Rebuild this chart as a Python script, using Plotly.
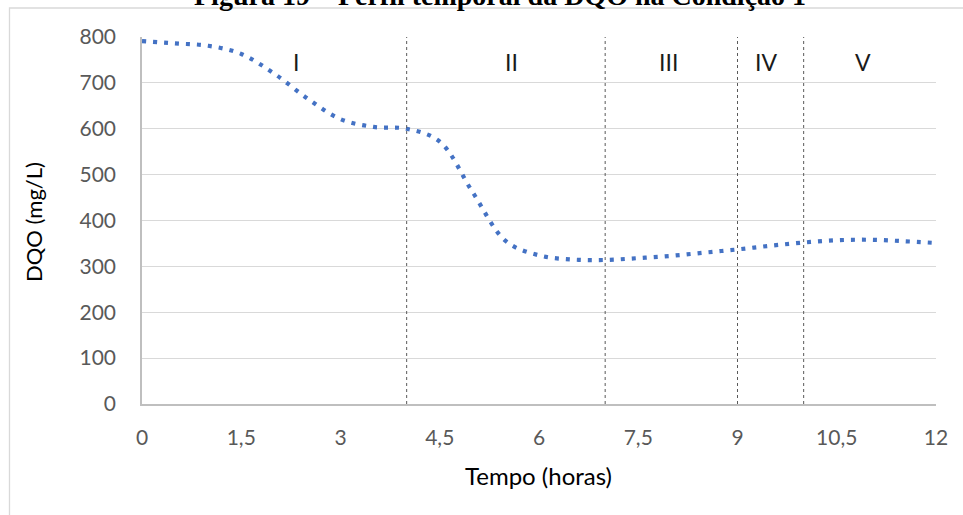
import plotly.graph_objects as go

# DQO over time (h), sampled every half hour
tempo_h = [0, 0.5, 1.0, 1.5, 2.0, 2.5, 3.0, 3.5, 4.0, 4.5, 5.0, 5.5, 6.0,
           6.5, 7.0, 7.5, 8.0, 8.5, 9.0, 9.5, 10.0, 10.5, 11.0, 11.5, 12.0]
dqo_mg_l = [791, 786, 781, 763, 720, 666, 621, 604, 600, 572, 461, 355, 324,
            315, 314, 318, 323, 330, 337, 345, 352, 357, 358, 355, 351]

# Phase boundaries (h) and phase labels
phase_bounds = [4, 7, 9, 10]
phase_names = ["I", "II", "III", "IV", "V"]
phase_label_x = [2.33, 5.58, 7.95, 9.43, 10.9]
phase_label_y = 745

title_text = "Figura 19 – Perfil temporal da DQO na Condição 1"

W, H = 963, 515
L, R, T, B = 142, 27, 37, 111
pw, ph = W - L - R, H - T - B

def px_x(px):
    return (px - L) / pw

def px_y(py):
    return (H - B - py) / ph

fig = go.Figure()
fig.add_trace(go.Scatter(
    x=tempo_h, y=dqo_mg_l, mode="lines",
    line=dict(color="#4472C4", width=4.2, shape="spline", smoothing=1.0,
              dash="4px,7px"),
    hoverinfo="x+y", showlegend=False,
))

shapes = []
for b in phase_bounds:
    shapes.append(dict(type="line", xref="x", yref="y", x0=b, x1=b, y0=0, y1=800,
                       line=dict(color="#595959", width=1, dash="dot")))
# outer chart frame
shapes.append(dict(type="rect", xref="paper", yref="paper",
                   x0=px_x(9.5), x1=px_x(975), y0=px_y(530), y1=px_y(8),
                   line=dict(color="#d9d9d9", width=1.3), fillcolor="rgba(0,0,0,0)",
                   layer="below"))

annotations = []
for name, xv in zip(phase_names, phase_label_x):
    annotations.append(dict(x=xv, y=phase_label_y, xref="x", yref="y", text=name,
                            showarrow=False, xanchor="center", yanchor="middle",
                            font=dict(family="Lato", size=23, color="#1a1a1a")))
annotations.append(dict(x=px_x(538), y=px_y(475), xref="paper", yref="paper",
                        text="Tempo (horas)", showarrow=False,
                        xanchor="center", yanchor="middle",
                        font=dict(family="Lato", size=24, color="#000000")))
annotations.append(dict(x=px_x(33), y=px_y(222), xref="paper", yref="paper",
                        text="DQO (mg/L)", showarrow=False, textangle=-90,
                        xanchor="center", yanchor="middle",
                        font=dict(family="Lato", size=22, color="#000000")))
annotations.append(dict(x=px_x(500), y=px_y(13), xref="paper", yref="paper",
                        text="<b>" + title_text + "</b>", showarrow=False,
                        xanchor="center", yanchor="bottom",
                        font=dict(family="Liberation Serif", size=28, color="#000000")))

fig.update_layout(
    width=W, height=H,
    margin=dict(l=L, r=R, t=T, b=B),
    paper_bgcolor="white", plot_bgcolor="white",
    separators=",.",
    shapes=shapes, annotations=annotations,
    xaxis=dict(range=[0, 12], tick0=0, dtick=1.5, showgrid=False, zeroline=False,
               showline=True, linecolor="#bfbfbf", linewidth=1.5,
               ticks="outside", ticklen=14, tickcolor="rgba(0,0,0,0)",
               tickfont=dict(family="Lato", size=21, color="#595959")),
    yaxis=dict(range=[0, 800], dtick=100, showgrid=True, gridcolor="#d9d9d9",
               gridwidth=1.3, zeroline=False,
               showline=True, linecolor="#bfbfbf", linewidth=1.5,
               ticks="outside", ticklen=20, tickcolor="rgba(0,0,0,0)",
               tickfont=dict(family="Lato", size=21, color="#595959")),
)

fig.write_html("out.html")
